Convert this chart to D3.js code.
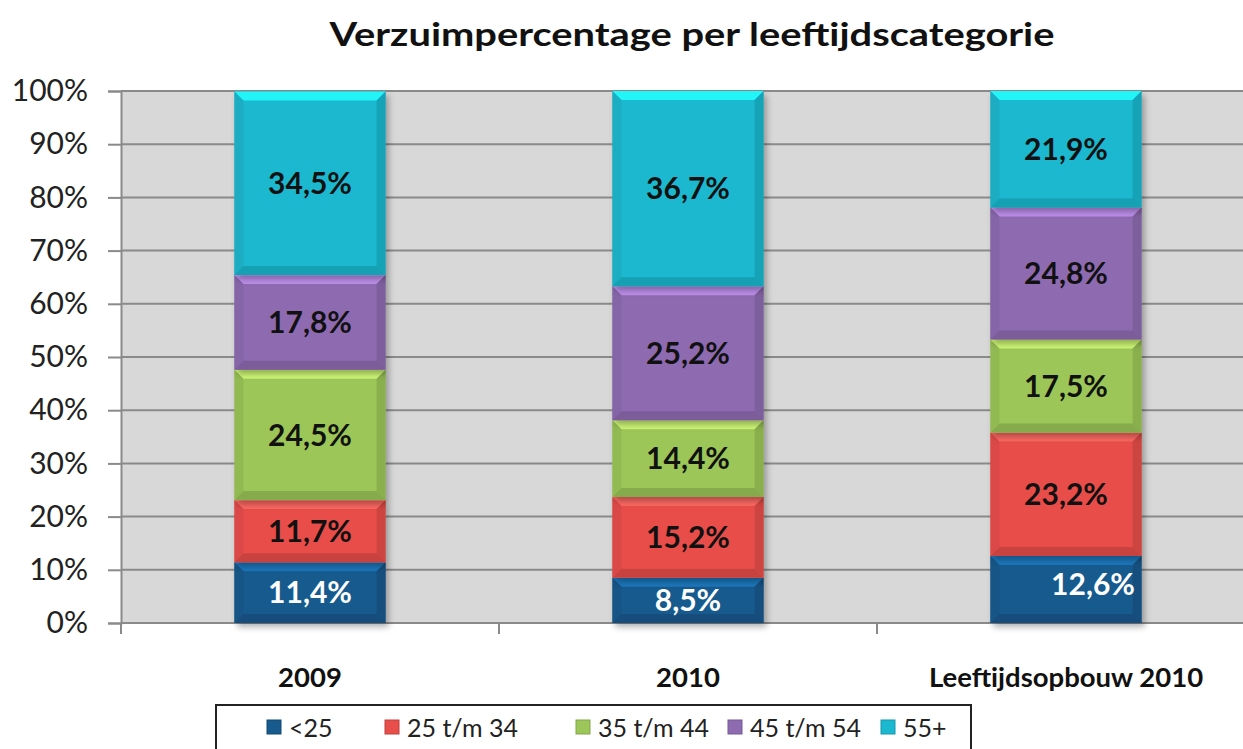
<!DOCTYPE html>
<html>
<head>
<meta charset="utf-8">
<script src="https://cdn.jsdelivr.net/npm/d3@7"></script>
<style>
  body { margin: 0; background: #fff; }
  text { font-family: Lato, "Open Sans", sans-serif; }
</style>
</head>
<body>
<div id="chart"></div>
<script>
// data
const categories = ["2009", "2010", "Leeftijdsopbouw 2010"];
const seriesNames = ["<25", "25 t/m 34", "35 t/m 44", "45 t/m 54", "55+"];
const values = [
  [11.4, 8.5, 12.6],   // <25
  [11.7, 15.2, 23.2],  // 25 t/m 34
  [24.5, 14.4, 17.5],  // 35 t/m 44
  [17.8, 25.2, 24.8],  // 45 t/m 54
  [34.5, 36.7, 21.9]   // 55+
];
const yTicks = [0, 10, 20, 30, 40, 50, 60, 70, 80, 90, 100];

const colors = ["#175a8e", "#e84e4a", "#9cc659", "#8e6bb1", "#1bb8cf"];
const labelColors = ["#fff", "#111", "#111", "#111", "#111"];

// dimensions
const W = 1243, H = 749;
const margin = { top: 91, left: 121 };
const plotW = 1134, plotH = 532;

const svg = d3.select("#chart").append("svg")
  .attr("width", W).attr("height", H);

// title
svg.append("text")
  .attr("x", 692).attr("y", 46)
  .attr("text-anchor", "middle")
  .attr("font-size", "33px").attr("font-weight", "bold")
  .attr("fill", "#111")
  .attr("textLength", 725).attr("lengthAdjust", "spacingAndGlyphs")
  .text("Verzuimpercentage per leeftijdscategorie");

const g = svg.append("g")
  .attr("transform", `translate(${margin.left},${margin.top})`);

// scales
const x = d3.scaleBand().domain(categories).range([0, plotW])
  .paddingInner(0.6).paddingOuter(0.3);
const y = d3.scaleLinear().domain([0, 100]).range([plotH, 0]);

// plot background
g.append("rect")
  .attr("width", plotW).attr("height", plotH)
  .attr("fill", "#d8d8d8");

// gridlines
g.selectAll(".grid").data(yTicks).enter().append("line")
  .attr("x1", 0).attr("x2", plotW)
  .attr("y1", d => y(d)).attr("y2", d => y(d))
  .attr("stroke", "#8a8a8a").attr("stroke-width", 2);

// y axis
const yAxis = d3.axisLeft(y).tickValues(yTicks)
  .tickSize(13).tickPadding(20)
  .tickFormat(d => d + "%");
const ya = g.append("g").call(yAxis);
ya.select(".domain").attr("stroke", "#8a8a8a").attr("stroke-width", 2);
ya.selectAll(".tick line").attr("stroke", "#8a8a8a").attr("stroke-width", 2);
ya.selectAll(".tick text").attr("font-size", "30px").attr("fill", "#222")
  .style("font-family", "Lato, sans-serif");

// x axis (category boundaries ticks)
const step = x.step();
g.append("line")
  .attr("x1", 0).attr("x2", plotW).attr("y1", plotH).attr("y2", plotH)
  .attr("stroke", "#8a8a8a").attr("stroke-width", 2);
g.selectAll(".xtick").data(d3.range(categories.length + 1)).enter().append("line")
  .attr("x1", i => i * step).attr("x2", i => i * step)
  .attr("y1", plotH).attr("y2", plotH + 11)
  .attr("stroke", "#8a8a8a").attr("stroke-width", 2);

g.selectAll(".xlabel").data(categories).enter().append("text")
  .attr("x", d => x(d) + x.bandwidth() / 2)
  .attr("y", plotH + 64)
  .attr("text-anchor", "middle")
  .attr("font-size", "27.5px").attr("font-weight", "bold")
  .attr("fill", "#111")
  .text(d => d);

// stacked segments
const rows = categories.map((c, ci) => {
  const r = { cat: c };
  seriesNames.forEach((s, si) => { r[s] = values[si][ci]; });
  return r;
});
const stacked = d3.stack().keys(seriesNames)(rows);

const defs = svg.append("defs");
const shadow = defs.append("filter").attr("id", "shadow")
  .attr("x", "-10%").attr("y", "-10%").attr("width", "130%").attr("height", "130%");
shadow.append("feDropShadow").attr("dx", 3).attr("dy", 4).attr("stdDeviation", 3)
  .attr("flood-color", "#000").attr("flood-opacity", 0.3);

const bev = 9;
stacked.forEach((layer, si) => {
  const col = d3.color(colors[si]);
  const light = col.brighter(0.9).formatHex();
  const dark = col.darker(0.6).formatHex();
  const side = col.darker(0.25).formatHex();
  layer.forEach((d, ci) => {
    const x0 = x(categories[ci]), x1 = x0 + x.bandwidth();
    const yt = y(d[1]), yb = y(d[0]);
    const seg = g.append("g").attr("filter", "url(#shadow)");
    seg.append("rect")
      .attr("x", x0).attr("y", yt).attr("width", x1 - x0).attr("height", yb - yt)
      .attr("fill", colors[si]);
    const pts = (arr) => arr.map(p => p.join(",")).join(" ");
    // top bevel
    seg.append("polygon")
      .attr("points", pts([[x0, yt], [x1, yt], [x1 - bev, yt + bev], [x0 + bev, yt + bev]]))
      .attr("fill", light).attr("opacity", 0.85);
    // bottom bevel
    seg.append("polygon")
      .attr("points", pts([[x0, yb], [x1, yb], [x1 - bev, yb - bev], [x0 + bev, yb - bev]]))
      .attr("fill", dark).attr("opacity", 0.7);
    // sides
    seg.append("polygon")
      .attr("points", pts([[x0, yt], [x0 + bev, yt + bev], [x0 + bev, yb - bev], [x0, yb]]))
      .attr("fill", side).attr("opacity", 0.7);
    seg.append("polygon")
      .attr("points", pts([[x1, yt], [x1 - bev, yt + bev], [x1 - bev, yb - bev], [x1, yb]]))
      .attr("fill", dark).attr("opacity", 0.6);
  });
});

// value labels
stacked.forEach((layer, si) => {
  layer.forEach((d, ci) => {
    const v = values[si][ci];
    const shift = (si === 0 && ci === categories.length - 1) ? 27 : 0;
    g.append("text")
      .attr("x", x(categories[ci]) + x.bandwidth() / 2 + shift)
      .attr("y", y((d[0] + d[1]) / 2) + (shift ? -5 : 0))
      .attr("dy", "0.36em")
      .attr("text-anchor", "middle")
      .attr("font-size", "30px").attr("font-weight", "bold")
      .attr("fill", labelColors[si])
      .text(d3.format(".1f")(v).replace(".", ",") + "%");
  });
});

// legend
const legend = svg.append("g");
legend.append("rect")
  .attr("x", 216).attr("y", 705).attr("width", 755).attr("height", 60)
  .attr("fill", "#fff").attr("stroke", "#222").attr("stroke-width", 2);
const legendX = [267, 385, 576, 728, 881];
const items = legend.selectAll(".li").data(seriesNames).enter().append("g")
  .attr("transform", (d, i) => `translate(${legendX[i]},720)`);
items.append("rect")
  .attr("width", 14).attr("height", 14)
  .attr("fill", (d, i) => colors[i])
  .attr("stroke", (d, i) => d3.color(colors[i]).darker(0.5))
  .attr("stroke-width", 1);
items.append("text")
  .attr("x", 22).attr("y", 8).attr("dy", "0.36em")
  .attr("font-size", "25px").attr("fill", "#222")
  .text(d => d);
</script>
</body>
</html>
